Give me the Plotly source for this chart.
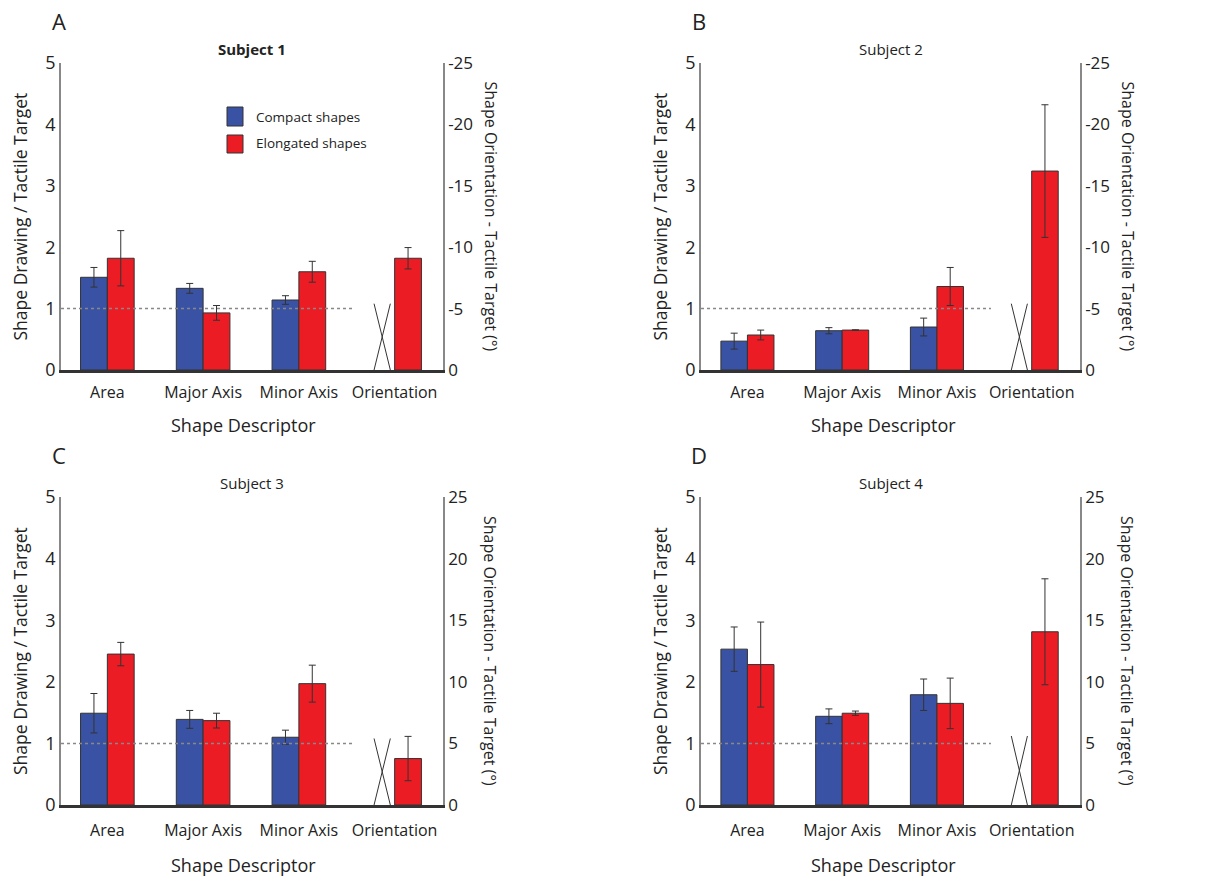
import plotly.graph_objects as go

categories = ["Area", "Major Axis", "Minor Axis", "Orientation"]
subjects = ["Subject 1", "Subject 2", "Subject 3", "Subject 4"]
panel_letters = ["A", "B", "C", "D"]

# ratio values (Area, Major Axis, Minor Axis)
compact_means = [[1.51, 1.33, 1.14], [0.47, 0.64, 0.70], [1.49, 1.39, 1.10], [2.53, 1.44, 1.79]]
compact_errs = [[0.16, 0.08, 0.07], [0.13, 0.05, 0.145], [0.32, 0.145, 0.115], [0.36, 0.12, 0.255]]
elong_means = [[1.82, 0.93, 1.60], [0.57, 0.65, 1.36], [2.45, 1.37, 1.97], [2.28, 1.49, 1.65]]
elong_errs = [[0.45, 0.12, 0.17], [0.08, 0.005, 0.31], [0.19, 0.12, 0.30], [0.69, 0.035, 0.41]]
# orientation error (degrees), elongated shapes only
orient_means = [-9.1, -16.2, 3.77, 14.06]
orient_errs = [0.87, 5.4, 1.8, 4.3]
right_ranges = [[0, -25], [0, -25], [0, 25], [0, 25]]
right_ticks = [[0, -5, -10, -15, -20, -25], [0, -5, -10, -15, -20, -25],
               [0, 5, 10, 15, 20, 25], [0, 5, 10, 15, 20, 25]]
left_ticks = [0, 1, 2, 3, 4, 5]
reference_level = 1

W, H = 1223, 879
BLUE = "#3A52A3"
RED = "#EC1C24"
FONT = "Open Sans"
TXT = "#222222"
BW = 0.28

# panel pixel boxes: (left, right, top, bottom)
boxes = [(61, 443, 63, 370), (701, 1080, 63, 370), (61, 443, 497, 805), (701, 1080, 497, 805)]
xranges = [[-0.484, 3.505], [-0.49, 3.51], [-0.484, 3.505], [-0.49, 3.51]]
x_heights = [1.08, 1.08, 1.08, 1.12]
label_standoff = [6, 6, 9, 9]
xtitle_gap = [55, 55, 60, 60]


def px(x):
    return x / W


def py(y):
    return 1 - y / H


def ann(x, y, text, size, angle=0, xanchor="center"):
    return dict(x=px(x), y=py(y), xref="paper", yref="paper", text=text, textangle=angle,
                xanchor=xanchor, yanchor="middle", showarrow=False,
                font=dict(family=FONT, size=size, color=TXT))


fig = go.Figure()
annotations = []
shapes = []
xpos3 = [0, 1, 2]

for i in range(4):
    xa = "x" if i == 0 else f"x{i+1}"
    ya = f"y{2*i+1}" if i > 0 else "y"
    yb = f"y{2*i+2}"
    fig.add_trace(go.Bar(
        x=xpos3, y=compact_means[i], xaxis=xa, yaxis=ya, width=BW, offset=-BW,
        marker=dict(color=BLUE, line=dict(color="#333", width=1)),
        error_y=dict(type="data", array=compact_errs[i], color="#333", thickness=1, width=3.5),
        showlegend=False, name="Compact shapes"))
    fig.add_trace(go.Bar(
        x=xpos3, y=elong_means[i], xaxis=xa, yaxis=ya, width=BW, offset=0,
        marker=dict(color=RED, line=dict(color="#333", width=1)),
        error_y=dict(type="data", array=elong_errs[i], color="#333", thickness=1, width=3.5),
        showlegend=False, name="Elongated shapes"))
    fig.add_trace(go.Bar(
        x=[3], y=[orient_means[i]], xaxis=xa, yaxis=yb, width=BW, offset=0,
        marker=dict(color=RED, line=dict(color="#333", width=1)),
        error_y=dict(type="data", array=[orient_errs[i]], color="#333", thickness=1, width=3.5),
        showlegend=False, name="Elongated shapes"))
    # reference dotted line
    fig.add_trace(go.Scatter(
        x=[xranges[i][0], 2.57], y=[reference_level, reference_level], xaxis=xa, yaxis=ya,
        mode="lines", line=dict(color="#888", width=1.5, dash="dot"), showlegend=False,
        hoverinfo="skip"))
    # cross marking missing compact orientation
    x0, x1 = 3 - 0.215, 3 - 0.045
    hgt = x_heights[i]
    fig.add_trace(go.Scatter(
        x=[x0, x1, None, x0, x1], y=[0, hgt, None, hgt, 0], xaxis=xa, yaxis=ya,
        mode="lines", line=dict(color="#333", width=1), showlegend=False, hoverinfo="skip"))

    l, r, t, b = boxes[i]
    xkey = "xaxis" if i == 0 else f"xaxis{i+1}"
    yk1 = "yaxis" if i == 0 else f"yaxis{2*i+1}"
    yk2 = f"yaxis{2*i+2}"
    fig.update_layout(**{
        xkey: dict(domain=[px(l), px(r)], anchor=ya, range=xranges[i], automargin=False,
                   tickmode="array", tickvals=[0, 1, 2, 3], ticktext=categories,
                   ticklabelstandoff=label_standoff[i],
                   showline=True, linecolor="#333", linewidth=2.5, showgrid=False,
                   zeroline=False, ticks="", tickfont=dict(family=FONT, size=16, color=TXT)),
        yk1: dict(domain=[py(b), py(t)], anchor=xa, range=[0, 5], tickvals=left_ticks,
                  automargin=False,
                  showline=True, linecolor="#888", linewidth=1.5, showgrid=False,
                  zeroline=False, ticks="", tickfont=dict(family=FONT, size=18, color=TXT)),
        yk2: dict(overlaying=ya, anchor=xa, side="right", range=right_ranges[i],
                  automargin=False, tickmode="array", tickvals=right_ticks[i],
                  ticktext=[str(v) for v in right_ticks[i]],
                  showline=True, linecolor="#888", linewidth=1.5, showgrid=False,
                  zeroline=False, ticks="", tickfont=dict(family=FONT, size=17, color=TXT)),
    })

    cx = (l + r) / 2
    annotations.append(ann(cx, t - 14, f"<b>{subjects[i]}</b>" if i == 0 else subjects[i], 15))
    annotations.append(ann(l - 2, t - 42, panel_letters[i], 22))
    annotations.append(ann(l - 41, (t + b) / 2, "Shape Drawing / Tactile Target", 17.5, -90))
    annotations.append(ann(r + 47, (t + b) / 2, "Shape Orientation - Tactile Target (°)", 16, 90))
    annotations.append(ann(l + 182, b + xtitle_gap[i], "Shape Descriptor", 18))

# manual legend (panel A)
shapes.append(dict(type="rect", xref="paper", yref="paper", x0=px(227), x1=px(243),
                   y0=py(126), y1=py(107), fillcolor=BLUE, line=dict(color="#333", width=1)))
shapes.append(dict(type="rect", xref="paper", yref="paper", x0=px(227), x1=px(243),
                   y0=py(153), y1=py(135), fillcolor=RED, line=dict(color="#333", width=1)))
annotations.append(ann(254, 117, "Compact shapes", 13.5, xanchor="left"))
annotations.append(ann(254, 143, "Elongated shapes", 13.5, xanchor="left"))

fig.update_layout(width=W, height=H,
                  margin=dict(l=0, r=0, t=0, b=0, pad=0, autoexpand=False),
                  paper_bgcolor="white", plot_bgcolor="white",
                  annotations=annotations, shapes=shapes, showlegend=False)
fig.write_html("out.html", config={"displayModeBar": False},
               post_script="document.body.style.margin='0';document.body.style.overflow='hidden';")
